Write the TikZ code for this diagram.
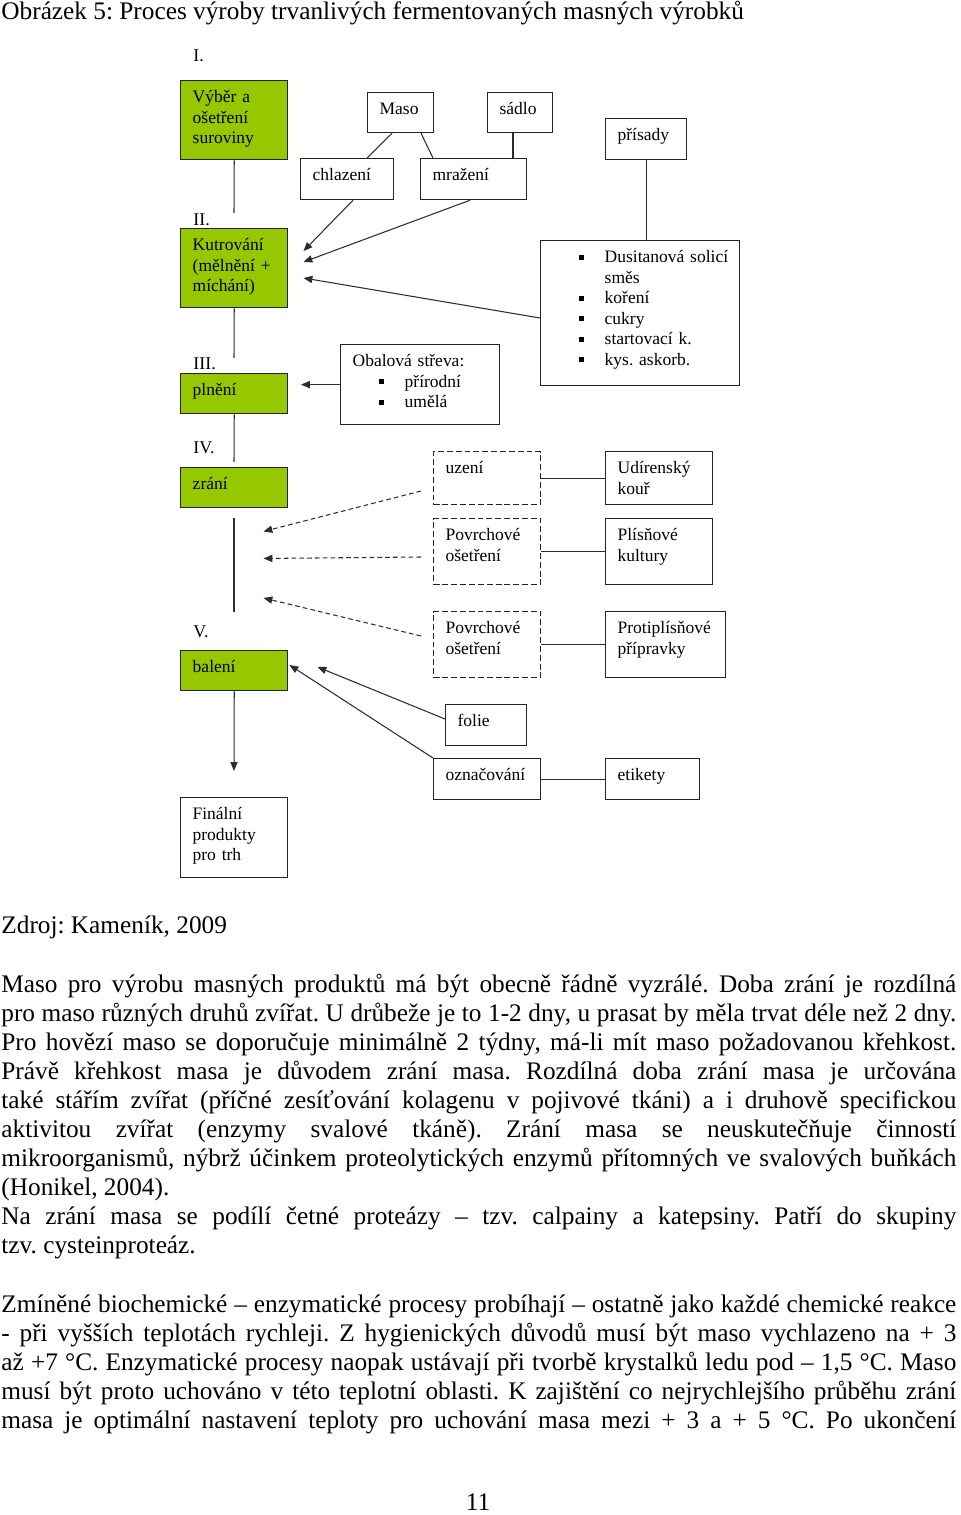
\documentclass[tikz,border=0pt]{standalone}
\usepackage{fontspec}
\setmainfont{Liberation Serif}
\usetikzlibrary{arrows.meta,calc}
\definecolor{limeg}{RGB}{150,200,0}
\definecolor{linec}{RGB}{45,45,45}
\definecolor{boxc}{RGB}{35,35,35}
\frenchspacing
\newcommand\bul{\rule[1.3pt]{2.4pt}{2.4pt}}
\newcommand\bitem[1]{\makebox[24.7pt][l]{\hspace*{12.6pt}\bul}#1}
\newcommand\jl[3]{\node[txt] (#1) at (1,#2) {\makebox[453pt][s]{#3}};}
\newcommand\nl[3]{\node[txt] (#1) at (1,#2) {#3};}
\begin{document}
\begin{tikzpicture}[x=0.4744pt,y=-0.4744pt,
  box/.code 2 args={\pgfmathsetmacro\bxw{#1*0.4744-11.38}\pgfmathsetmacro\bxd{#2*0.4744-10.44}\edef\bxtmp{\noexpand\tikzset{text width=\bxw pt,text depth=\bxd pt}}\bxtmp},
  bstyle/.style={draw=boxc, line width=0.6pt, inner xsep=5.69pt, inner ysep=0pt, text height=10.44pt, align=left, anchor=north west, font=\fontsize{8.3}{9.73}\selectfont},
  gbox/.style={bstyle, fill=limeg, line width=0.7pt},
  wbox/.style={bstyle, fill=white},
  dbox/.style={bstyle, fill=white, dash pattern=on 2.8pt off 1.4pt},
  lbl/.style={anchor=west, inner sep=0pt, font=\fontsize{8.5}{9.73}\selectfont},
  txt/.style={anchor=base west, inner sep=0pt, font=\fontsize{12}{13.8}\selectfont},
  ln/.style={linec, line width=0.5pt},
  arr/.style={ln, -{Triangle[length=4.2pt,width=3.4pt]}},
  darr/.style={arr, dash pattern=on 2.2pt off 1.5pt}]
\fill[white] (0,0) rectangle (960,1515);
\useasboundingbox (0,0) rectangle (960,1515);

% title
\nl{title}{20}{Obrázek 5: Proces výroby trvanlivých fermentovaných masných výrobků}

% stage labels
\node[lbl] (lI) at (193,56) {I.};
\node[lbl] (lII) at (193,220) {II.};
\node[lbl] (lIII) at (193,364) {III.};
\node[lbl] (lIV) at (193,448) {IV.};
\node[lbl] (lV) at (193,632) {V.};

% main column
\node[gbox, box={107}{79}] (b1) at (180,80) {Výběr a\\ošetření\\suroviny};
\node[gbox, box={107}{79}] (b2) at (180,228) {Kutrování\\(mělnění +\\míchání)};
\node[gbox, box={107}{40}] (b3) at (180,373) {plnění};
\node[gbox, box={107}{40}] (b4) at (180,467) {zrání};
\node[gbox, box={107}{40}] (b5) at (180,650) {balení};
\node[wbox, box={107}{80}] (fin) at (180,797) {Finální\\produkty\\pro trh};

% raw materials
\node[wbox, box={66}{40}] (maso) at (367,92) {Maso};
\node[wbox, box={65}{40}] (sadlo) at (487,92) {sádlo};
\node[wbox, box={81}{41}] (prisady) at (605,118) {přísady};
\node[wbox, box={93}{41}] (chl) at (300,158) {chlazení};
\node[wbox, box={106}{41}] (mraz) at (420,158) {mražení};
\node[wbox, box={199}{145}] (dus) at (540,240) {\bitem{\mbox{Dusitanová solicí}}\\\hspace*{24.7pt}směs\\\bitem{koření}\\\bitem{cukry}\\\bitem{startovací k.}\\\bitem{kys. askorb.}};
\node[wbox, box={159}{80}] (obal) at (340,344) {Obalová střeva:\\\bitem{přírodní}\\\bitem{umělá}};

% ripening
\node[dbox, box={107}{53}] (uzeni) at (433,451) {uzení};
\node[wbox, box={107}{53}] (udir) at (605,451) {Udírenský\\kouř};
\node[dbox, box={107}{66}] (povr1) at (433,518) {Povrchové\\ošetření};
\node[wbox, box={107}{66}] (plis) at (605,518) {Plísňové\\kultury};
\node[dbox, box={107}{66}] (povr2) at (433,611) {Povrchové\\ošetření};
\node[wbox, box={120}{66}] (proti) at (605,611) {Protiplísňové\\přípravky};

% packaging
\node[wbox, box={81}{41}] (folie) at (445,704) {folie};
\node[wbox, box={107}{41}] (ozn) at (433,758) {označování};
\node[wbox, box={94}{41}] (etik) at (605,758) {etikety};

% free ends of the main column
\coordinate (c1) at (234,213);
\coordinate (c2) at (234,358);
\coordinate (c3) at (234,462);
\coordinate (c4a) at (234,518);
\coordinate (c4b) at (234,612);
\coordinate (c5) at (234,771);

\draw[ln] (b1.south) -- (c1);
\draw[ln] (b2.south) -- (c2);
\draw[ln] (b3.south) -- (c3);
\draw[ln] (c4a) -- (c4b);
\draw[arr] (b5.south) -- (c5);

% raw material connections
\draw[ln] ($(maso.south west)+(25,0)$) -- ($(chl.north west)+(67,0)$);
\draw[ln] ($(maso.south west)+(54,0)$) -- ($(mraz.north west)+(13,0)$);
\draw[ln] ($(sadlo.south west)+(26,0)$) -- ($(mraz.north west)+(93,0)$);
\draw[ln] (prisady.south) -- (prisady.south |- dus.north);
\draw[arr] ($(chl.south west)+(53,0)$) -- ($(b2.north east)+(15,23)$);
\draw[arr] ($(mraz.south west)+(50,0)$) -- ($(b2.north east)+(15,34)$);
\draw[arr] ($(dus.north west)+(0,78)$) -- ($(b2.north east)+(15,50)$);
\draw[arr] (obal.west) -- ($(obal.west)+(-39,0)$);

% ripening connections
\draw[darr] ($(uzeni.north west)+(-12,40)$) -- ($(b4.south east)+(-25,23)$);
\draw[darr] ($(povr1.north west)+(-12,39)$) -- ($(b4.south east)+(-25,50)$);
\draw[darr] ($(povr2.north west)+(-12,25)$) -- ($(b5.north east)+(-25,-52)$);
\draw[ln] (uzeni.east) -- (udir.west);
\draw[ln] (povr1.east) -- (plis.west);
\draw[ln] (povr2.east) -- (proti.west);

% packaging connections
\draw[arr] (ozn.north west) -- ($(b5.north east)+(1,15)$);
\draw[arr] ($(folie.north west)+(0,15)$) -- ($(b5.north east)+(29,17)$);
\draw[ln] (ozn.east) -- (etik.west);

% body text
\nl{src}{933}{Zdroj: Kameník, 2009}
\jl{p1}{992}{Maso pro výrobu masných produktů má být obecně řádně vyzrálé. Doba zrání je rozdílná}
\jl{p2}{1021}{pro maso různých druhů zvířat. U drůbeže je to 1-2 dny, u prasat by měla trvat déle než 2 dny.}
\jl{p3}{1050}{Pro hovězí maso se doporučuje minimálně 2 týdny, má-li mít maso požadovanou křehkost.}
\jl{p4}{1079}{Právě křehkost masa je důvodem zrání masa. Rozdílná doba zrání masa je určována}
\jl{p5}{1108}{také stářím zvířat (příčné zesíťování kolagenu v pojivové tkáni) a i druhově specifickou}
\jl{p6}{1137}{aktivitou zvířat (enzymy svalové tkáně). Zrání masa se neuskutečňuje činností}
\jl{p7}{1166}{mikroorganismů, nýbrž účinkem proteolytických enzymů přítomných ve svalových buňkách}
\nl{p8}{1195}{(Honikel, 2004).}
\jl{p9}{1224}{Na zrání masa se podílí četné proteázy – tzv. calpainy a katepsiny. Patří do skupiny}
\nl{p10}{1253}{tzv. cysteinproteáz.}
\jl{q1}{1312}{Zmíněné biochemické – enzymatické procesy probíhají – ostatně jako každé chemické reakce}
\jl{q2}{1341}{- při vyšších teplotách rychleji. Z hygienických důvodů musí být maso vychlazeno na + 3}
\jl{q3}{1370}{až +7 °C. Enzymatické procesy naopak ustávají při tvorbě krystalků ledu pod – 1,5 °C. Maso}
\jl{q4}{1399}{musí být proto uchováno v této teplotní oblasti. K zajištění co nejrychlejšího průběhu zrání}
\jl{q5}{1428}{masa je optimální nastavení teploty pro uchování masa mezi + 3 a + 5 °C. Po ukončení}
\node[txt, anchor=base] (pg) at (478,1510) {11};
\end{tikzpicture}
\end{document}
